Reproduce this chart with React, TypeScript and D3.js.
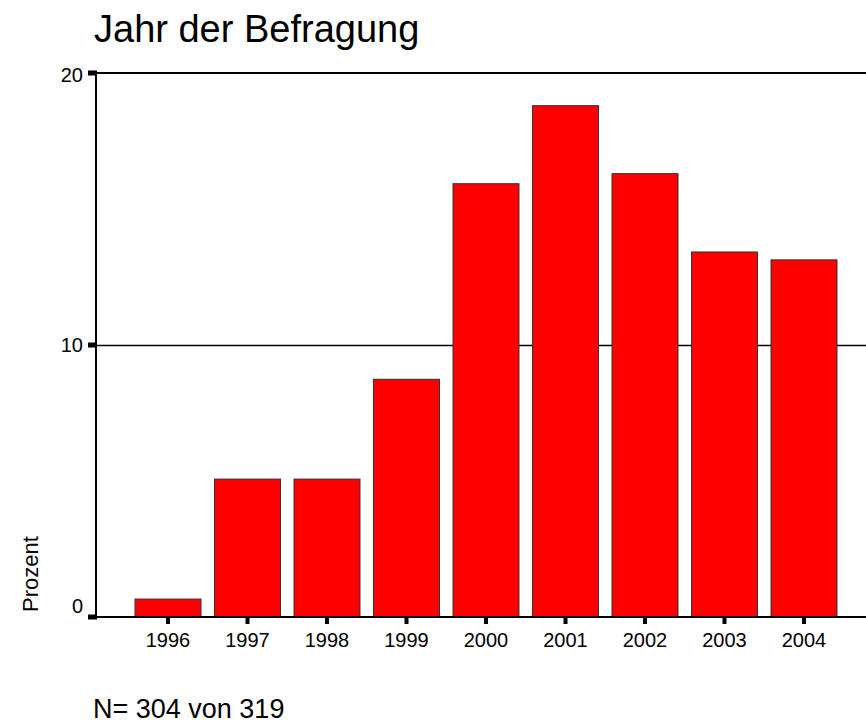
import * as d3 from 'd3';
import React, { useRef, useEffect } from 'react';

const years = ['1996', '1997', '1998', '1999', '2000', '2001', '2002', '2003', '2004'];
const percent = [0.66, 5.07, 5.07, 8.74, 15.93, 18.8, 16.3, 13.42, 13.13];
const yTicks = [0, 10, 20];

export default function App() {
  const svgRef = useRef<SVGSVGElement>(null);

  useEffect(() => {
    const svg = d3.select(svgRef.current);
    svg.selectAll('*').remove();

    const left = 96;
    const right = 866;
    const top = 73;
    const bottom = 617;

    // value axis: 0..20 percent
    const yScale = d3.scaleLinear().domain([0, 20]).range([bottom, top]);

    // one band per survey year
    const xScale = d3.scaleBand<string>()
      .domain(years)
      .range([128.25, 843.75])
      .paddingInner(0.17)
      .paddingOuter(0.085);

    const font = 'Liberation Sans, Arial, sans-serif';

    svg.append('text')
      .attr('x', 94)
      .attr('y', 42)
      .attr('font-family', font)
      .attr('font-size', 38)
      .attr('fill', '#000')
      .text('Jahr der Befragung');

    // gridline at 10
    svg.append('line')
      .attr('x1', left).attr('x2', right)
      .attr('y1', Math.round(yScale(10)) + 0.5).attr('y2', Math.round(yScale(10)) + 0.5)
      .attr('stroke', '#000').attr('stroke-width', 1.5);

    // top frame line
    svg.append('line')
      .attr('x1', left).attr('x2', right)
      .attr('y1', yScale(20)).attr('y2', yScale(20))
      .attr('stroke', '#000').attr('stroke-width', 2);

    // bars
    svg.append('g')
      .selectAll('rect')
      .data(percent)
      .join('rect')
      .attr('x', (_, i) => xScale(years[i]) as number)
      .attr('width', xScale.bandwidth())
      .attr('y', d => yScale(d))
      .attr('height', d => yScale(0) - yScale(d))
      .attr('fill', '#ff0000')
      .attr('stroke', '#333')
      .attr('stroke-width', 1);

    // axes
    svg.append('line')
      .attr('x1', left).attr('x2', left)
      .attr('y1', top - 1).attr('y2', bottom + 1)
      .attr('stroke', '#000').attr('stroke-width', 2);
    svg.append('line')
      .attr('x1', left).attr('x2', right)
      .attr('y1', bottom).attr('y2', bottom)
      .attr('stroke', '#000').attr('stroke-width', 2);

    // y ticks + labels (SPSS-style label offsets)
    const labelDy: Record<number, number> = { 0: -4, 10: 7, 20: 9 };
    const yt = svg.append('g');
    yt.selectAll('rect')
      .data(yTicks)
      .join('rect')
      .attr('x', left - 8)
      .attr('y', d => yScale(d) - 2.5)
      .attr('width', 9)
      .attr('height', 5)
      .attr('fill', '#000');
    yt.selectAll('text')
      .data(yTicks)
      .join('text')
      .attr('x', 83)
      .attr('y', d => yScale(d) + labelDy[d])
      .attr('text-anchor', 'end')
      .attr('font-family', font)
      .attr('font-size', 20)
      .text(d => d);

    // x ticks + labels
    const xt = svg.append('g');
    xt.selectAll('rect')
      .data(years)
      .join('rect')
      .attr('x', d => (xScale(d) as number) + xScale.bandwidth() / 2 - 2)
      .attr('y', bottom)
      .attr('width', 4)
      .attr('height', 7)
      .attr('fill', '#000');
    xt.selectAll('text')
      .data(years)
      .join('text')
      .attr('x', d => (xScale(d) as number) + xScale.bandwidth() / 2)
      .attr('y', 647)
      .attr('text-anchor', 'middle')
      .attr('font-family', font)
      .attr('font-size', 20)
      .text(d => d);

    svg.append('text')
      .attr('transform', 'translate(38, 612) rotate(-90)')
      .attr('font-family', font)
      .attr('font-size', 22)
      .text('Prozent');

    svg.append('text')
      .attr('x', 93)
      .attr('y', 718)
      .attr('font-family', font)
      .attr('font-size', 27)
      .text('N= 304 von 319');
  }, []);

  return (
    <svg
      ref={svgRef}
      width={866}
      height={723}
      style={{ position: 'absolute', left: 0, top: 0, background: '#fff' }}
    />
  );
}
